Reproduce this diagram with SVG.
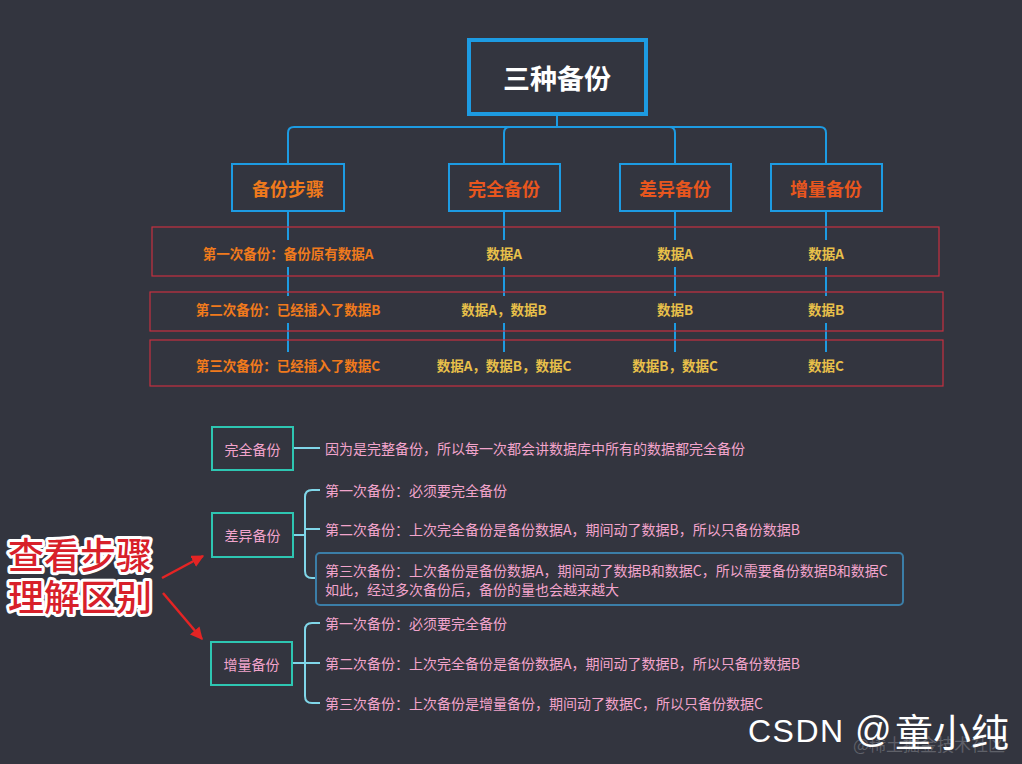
<svg xmlns="http://www.w3.org/2000/svg" width="1022" height="764" viewBox="0 0 1022 764">
<style>
.cjk{font-family:"Noto Sans CJK SC","Liberation Sans",sans-serif}
.lat{font-family:"Liberation Sans","Noto Sans CJK SC",sans-serif}
.root{fill:none;stroke:#1d9be2;stroke-width:4}
.child{fill:none;stroke:#1d9be2;stroke-width:2}
.row{fill:none;stroke:#c63040;stroke-width:1.2}
.conn{fill:none;stroke:#1d9be2;stroke-width:2}
.tbox{fill:none;stroke:#2ec6b2;stroke-width:2}
.br{fill:none;stroke:#80d6e8;stroke-width:2}
.t1{fill:#f07a1c;font-size:13.5px;font-weight:700}
.t2{fill:#e8c04a;font-size:13.5px;font-weight:700}
.ch{font-size:18px;font-weight:700}
.pk{fill:#f2a4cc;font-size:14px}
.big{fill:#d8202a;stroke:#fff;stroke-width:6;paint-order:stroke;stroke-linejoin:round;font-size:36px;font-weight:500}
</style>
<defs>
<marker id="ah" viewBox="0 0 10 10" refX="9" refY="5" markerWidth="5" markerHeight="5" orient="auto" markerUnits="strokeWidth">
<path d="M0,0 L10,5 L0,10 z" fill="#e42424"/>
</marker>
</defs>
<rect width="1022" height="764" fill="#33353f"/>

<g id="connectors">
<path class="conn" d="M557,114 V127"/>
<path class="conn" d="M557,127 H294 Q288,127 288,133 V164"/>
<path class="conn" d="M557,127 H510 Q504,127 504,133 V164"/>
<path class="conn" d="M557,127 H669 Q675,127 675,133 V164"/>
<path class="conn" d="M557,127 H820 Q826,127 826,133 V164"/>
<path class="conn" d="M288,211 V240 M288,267 V296 M288,323 V352"/>
<path class="conn" d="M504,211 V240 M504,267 V296 M504,323 V352"/>
<path class="conn" d="M675,211 V240 M675,267 V296 M675,323 V352"/>
<path class="conn" d="M826,211 V240 M826,267 V296 M826,323 V352"/>
<path class="br" d="M293,448 H320"/>
<path class="br" d="M293,535 H305 M320,490 H312 Q305,490 305,497 V571 Q305,578 312,578 H317 M305,529 H320"/>
<path class="br" d="M292,663 H305 M320,623 H312 Q305,623 305,630 V696 Q305,703 312,703 H320 M305,663 H320"/>
<path d="M162,578 L203,556" stroke="#e42424" stroke-width="2.5" marker-end="url(#ah)"/>
<path d="M163,593 L202,639" stroke="#e42424" stroke-width="2.5" marker-end="url(#ah)"/>
</g>

<g id="root">
<rect class="root" x="469" y="40" width="177" height="74"/>
<text class="cjk" x="557" y="77" text-anchor="middle" dominant-baseline="central" fill="#ffffff" font-size="27" font-weight="700">三种备份</text>
</g>

<g id="node-steps">
<rect class="child" x="232" y="164" width="112" height="47"/>
<text class="cjk ch" x="288" y="187.5" text-anchor="middle" dominant-baseline="central" fill="#f07a1c">备份步骤</text>
</g>
<g id="node-full">
<rect class="child" x="449" y="164" width="111" height="47"/>
<text class="cjk ch" x="504" y="187.5" text-anchor="middle" dominant-baseline="central" fill="#e8561e">完全备份</text>
</g>
<g id="node-diff">
<rect class="child" x="620" y="164" width="111" height="47"/>
<text class="cjk ch" x="675" y="187.5" text-anchor="middle" dominant-baseline="central" fill="#e8561e">差异备份</text>
</g>
<g id="node-incr">
<rect class="child" x="771" y="164" width="111" height="47"/>
<text class="cjk ch" x="826" y="187.5" text-anchor="middle" dominant-baseline="central" fill="#e8561e">增量备份</text>
</g>

<g id="row1">
<rect class="row" x="152" y="227" width="787" height="49"/>
<text class="cjk t1" x="288" y="253" text-anchor="middle" dominant-baseline="central">第一次备份：备份原有数据A</text>
<text class="cjk t2" x="504" y="253" text-anchor="middle" dominant-baseline="central">数据A</text>
<text class="cjk t2" x="675" y="253" text-anchor="middle" dominant-baseline="central">数据A</text>
<text class="cjk t2" x="826" y="253" text-anchor="middle" dominant-baseline="central">数据A</text>
</g>
<g id="row2">
<rect class="row" x="150" y="292" width="793" height="39"/>
<text class="cjk t1" x="288" y="309" text-anchor="middle" dominant-baseline="central">第二次备份：已经插入了数据B</text>
<text class="cjk t2" x="504" y="309" text-anchor="middle" dominant-baseline="central">数据A，数据B</text>
<text class="cjk t2" x="675" y="309" text-anchor="middle" dominant-baseline="central">数据B</text>
<text class="cjk t2" x="826" y="309" text-anchor="middle" dominant-baseline="central">数据B</text>
</g>
<g id="row3">
<rect class="row" x="150" y="340" width="793" height="46"/>
<text class="cjk t1" x="288" y="365" text-anchor="middle" dominant-baseline="central">第三次备份：已经插入了数据C</text>
<text class="cjk t2" x="504" y="365" text-anchor="middle" dominant-baseline="central">数据A，数据B，数据C</text>
<text class="cjk t2" x="675" y="365" text-anchor="middle" dominant-baseline="central">数据B，数据C</text>
<text class="cjk t2" x="826" y="365" text-anchor="middle" dominant-baseline="central">数据C</text>
</g>

<g id="full-box">
<rect class="tbox" x="212" y="427" width="81" height="43"/>
<text class="cjk pk" x="252.5" y="448.5" text-anchor="middle" dominant-baseline="central">完全备份</text>
</g>
<g id="full-desc">
<text class="cjk pk" x="325" y="448" dominant-baseline="central">因为是完整备份，所以每一次都会讲数据库中所有的数据都完全备份</text>
</g>

<g id="diff-box">
<rect class="tbox" x="212" y="513" width="81" height="44"/>
<text class="cjk pk" x="252.5" y="535" text-anchor="middle" dominant-baseline="central">差异备份</text>
</g>
<g id="diff-1">
<text class="cjk pk" x="325" y="490" dominant-baseline="central">第一次备份：必须要完全备份</text>
</g>
<g id="diff-2">
<text class="cjk pk" x="325" y="529" dominant-baseline="central">第二次备份：上次完全备份是备份数据A，期间动了数据B，所以只备份数据B</text>
</g>
<g id="diff-3">
<rect x="316" y="553" width="587" height="52" rx="4" fill="none" stroke="#3b7ea8" stroke-width="2"/>
<text class="cjk pk" x="325" y="570" dominant-baseline="central">第三次备份：上次备份是备份数据A，期间动了数据B和数据C，所以需要备份数据B和数据C<tspan x="325" dy="19">如此，经过多次备份后，备份的量也会越来越大</tspan></text>
</g>

<g id="incr-box">
<rect class="tbox" x="211" y="642" width="81" height="43"/>
<text class="cjk pk" x="251.5" y="663.5" text-anchor="middle" dominant-baseline="central">增量备份</text>
</g>
<g id="incr-1">
<text class="cjk pk" x="325" y="623" dominant-baseline="central">第一次备份：必须要完全备份</text>
</g>
<g id="incr-2">
<text class="cjk pk" x="325" y="663" dominant-baseline="central">第二次备份：上次完全备份是备份数据A，期间动了数据B，所以只备份数据B</text>
</g>
<g id="incr-3">
<text class="cjk pk" x="325" y="703" dominant-baseline="central">第三次备份：上次备份是增量备份，期间动了数据C，所以只备份数据C</text>
</g>

<g id="note">
<text class="cjk big" x="8" y="553" dominant-baseline="central">查看步骤<tspan x="8" dy="42">理解区别</tspan></text>
</g>

<g id="watermark">
<text class="cjk" x="853" y="751" font-size="17" fill="#ffffff" fill-opacity="0.22">@稀土掘金技术社区</text>
<text class="lat" x="748" y="742" font-size="32" fill="#ffffff" letter-spacing="1.5">CSDN<tspan x="855" font-size="36" letter-spacing="0">@</tspan><tspan class="cjk" x="895" y="746" font-size="38" letter-spacing="0">童小纯</tspan></text>
</g>
</svg>
